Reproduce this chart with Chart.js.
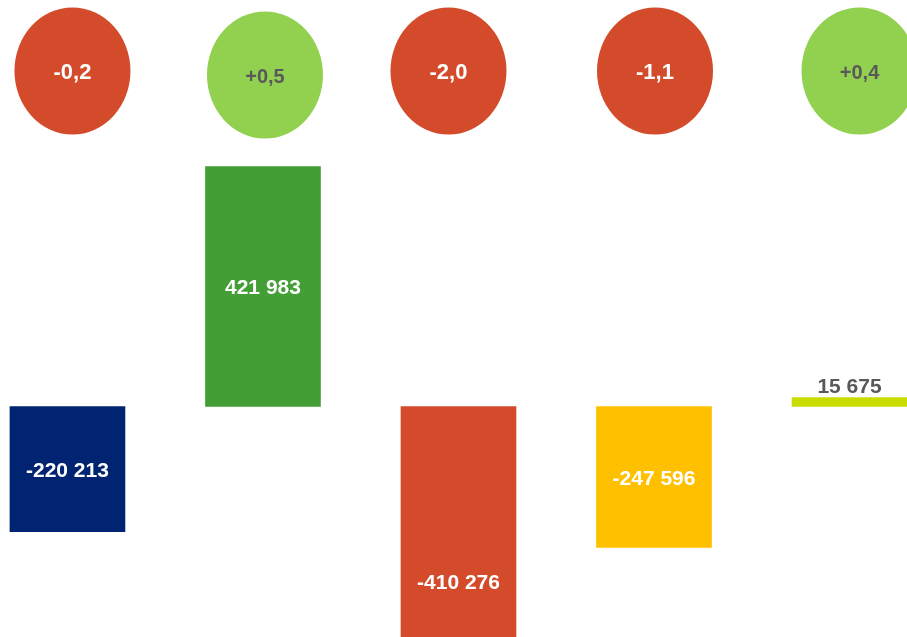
<!DOCTYPE html>
<html>
<head>
<meta charset="utf-8">
<script src="https://cdn.jsdelivr.net/npm/chart.js@4"></script>
<style>
  html, body { margin:0; padding:0; background:#fff; }
  #wrap { width:907px; height:637px; position:relative; overflow:hidden; }
</style>
</head>
<body>
<div id="wrap"><canvas id="ch" width="907" height="637"></canvas></div>
<script>
// data
const categories = ['A', 'B', 'C', 'D', 'E'];
const barValues  = [-220213, 421983, -410276, -247596, 15675];
const changes    = [-0.2, 0.5, -2.0, -1.1, 0.4];

// styles
const barColors  = ['#002471', '#439E36', '#D34B2A', '#FFC000', '#C9DD00'];
const RED = '#D34B2A', GREEN = '#92D050', GREY = '#595959';
const FAM = '"Liberation Sans", Arial, sans-serif';

const fmtNum = v => (v < 0 ? '-' : '') + String(Math.abs(v)).replace(/\B(?=(\d{3})+(?!\d))/g, ' ');
const fmtChg = v => (v > 0 ? '+' : v < 0 ? '-' : '') + Math.abs(v).toFixed(1).replace('.', ',');

// bar value labels (inside the bar, or above it when too thin)
const barLabels = {
  id: 'barLabels',
  afterDatasetsDraw(chart, args, o) {
    const { ctx } = chart;
    const meta = chart.getDatasetMeta(0);
    ctx.save();
    ctx.font = 'bold 21px ' + FAM; ctx.textAlign = 'center'; ctx.textBaseline = 'middle';
    meta.data.forEach((bar, i) => {
      const v = barValues[i];
      const h = Math.abs(bar.base - bar.y);
      let y, col;
      if (h < 30) { y = Math.min(bar.y, bar.base) - 10; col = GREY; }
      else { y = (bar.y + bar.base) / 2 + 2 + (o.dy[i] || 0); col = '#fff'; }
      ctx.fillStyle = col;
      ctx.fillText(fmtNum(v), bar.x, y);
    });
    ctx.restore();
  }
};

// change bubbles along the top
const bubbles = {
  id: 'bubbles',
  afterDatasetsDraw(chart, args, o) {
    const { ctx, scales } = chart;
    ctx.save();
    ctx.textAlign = 'center'; ctx.textBaseline = 'middle';
    changes.forEach((c, i) => {
      const cx = scales.x.getPixelForValue(i) + o.dx[i];
      const cy = o.cy + o.dy[i];
      ctx.fillStyle = c < 0 ? RED : GREEN;
      ctx.beginPath();
      ctx.ellipse(cx, cy, o.rx, o.ry, 0, 0, Math.PI * 2);
      ctx.fill();
      ctx.fillStyle = c < 0 ? '#fff' : GREY;
      ctx.font = (c < 0 ? 'bold 22px ' : 'bold 20px ') + FAM;
      ctx.fillText(fmtChg(c), cx, cy + 2);
    });
    ctx.restore();
  }
};

new Chart(document.getElementById('ch'), {
  type: 'bar',
  data: {
    datasets: [{
      data: barValues.map((v, i) => ({ x: i, y: v })),
      backgroundColor: barColors,
      borderWidth: 0,
      barThickness: 115
    }]
  },
  options: {
    responsive: false,
    animation: false,
    devicePixelRatio: 1,
    layout: { padding: 0 },
    scales: {
      x: { type: 'linear', min: -0.345, max: 4.294, offset: false, bounds: 'ticks', display: false },
      y: { min: -405200, max: 714600, display: false }
    },
    plugins: {
      legend: { display: false },
      tooltip: { enabled: false },
      barLabels: { dy: [0, 0, 58, 0, 0] },
      bubbles: { cy: 71, rx: 58, ry: 63.5, dx: [5, 2, -10, 1, 10], dy: [0, 4, 0, 0, 0] }
    }
  },
  plugins: [barLabels, bubbles]
});
</script>
</body>
</html>
